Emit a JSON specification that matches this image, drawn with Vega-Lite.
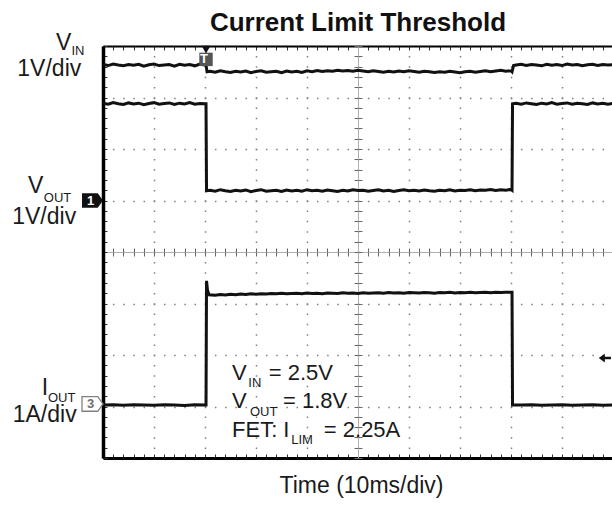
{
  "$schema": "https://vega.github.io/schema/vega-lite/v6.json",
  "autosize": {"type": "none"},
  "padding": {"left": 103, "top": 46, "right": 0, "bottom": 48},
  "width": 510,
  "height": 412,
  "background": "white",
  "config": {
    "view": {"stroke": null},
    "axis": {"labels": false, "grid": false, "title": null},
    "text": {"font": "Liberation Sans"}
  },
  "datasets": {
    "traces": [
      {"s":"VIN","t":0,"v":7.64},{"s":"VIN","t":0.1,"v":7.62},{"s":"VIN","t":0.2,"v":7.65},{"s":"VIN","t":0.3,"v":7.63},{"s":"VIN","t":0.4,"v":7.615},{"s":"VIN","t":0.5,"v":7.64},{"s":"VIN","t":0.6,"v":7.625},{"s":"VIN","t":0.7,"v":7.645},{"s":"VIN","t":0.8,"v":7.61},{"s":"VIN","t":0.9,"v":7.635},{"s":"VIN","t":1.0,"v":7.65},{"s":"VIN","t":1.1,"v":7.62},{"s":"VIN","t":1.2,"v":7.63},{"s":"VIN","t":1.3,"v":7.64},{"s":"VIN","t":1.4,"v":7.61},{"s":"VIN","t":1.5,"v":7.645},{"s":"VIN","t":1.6,"v":7.625},{"s":"VIN","t":1.7,"v":7.64},{"s":"VIN","t":1.8,"v":7.615},{"s":"VIN","t":1.9,"v":7.65},{"s":"VIN","t":2.0,"v":7.63},{"s":"VIN","t":2.02,"v":7.63},{"s":"VIN","t":2.04,"v":7.5},
      {"s":"VIN","t":2.1,"v":7.51},{"s":"VIN","t":2.2,"v":7.49},{"s":"VIN","t":2.3,"v":7.52},{"s":"VIN","t":2.4,"v":7.5},{"s":"VIN","t":2.5,"v":7.485},{"s":"VIN","t":2.6,"v":7.51},{"s":"VIN","t":2.7,"v":7.495},{"s":"VIN","t":2.8,"v":7.515},{"s":"VIN","t":2.9,"v":7.48},{"s":"VIN","t":3.0,"v":7.505},{"s":"VIN","t":3.1,"v":7.52},{"s":"VIN","t":3.2,"v":7.49},{"s":"VIN","t":3.3,"v":7.5},{"s":"VIN","t":3.4,"v":7.51},{"s":"VIN","t":3.5,"v":7.48},{"s":"VIN","t":3.6,"v":7.515},{"s":"VIN","t":3.7,"v":7.495},{"s":"VIN","t":3.8,"v":7.51},{"s":"VIN","t":3.9,"v":7.485},{"s":"VIN","t":4.0,"v":7.52},{"s":"VIN","t":4.1,"v":7.5},{"s":"VIN","t":4.2,"v":7.525},{"s":"VIN","t":4.3,"v":7.505},{"s":"VIN","t":4.4,"v":7.52},{"s":"VIN","t":4.5,"v":7.51},{"s":"VIN","t":4.6,"v":7.53},{"s":"VIN","t":4.7,"v":7.515},{"s":"VIN","t":4.8,"v":7.525},{"s":"VIN","t":4.9,"v":7.51},{"s":"VIN","t":5.0,"v":7.53},{"s":"VIN","t":5.1,"v":7.515},{"s":"VIN","t":5.2,"v":7.5},{"s":"VIN","t":5.3,"v":7.52},{"s":"VIN","t":5.4,"v":7.505},{"s":"VIN","t":5.5,"v":7.49},{"s":"VIN","t":5.6,"v":7.51},{"s":"VIN","t":5.7,"v":7.495},{"s":"VIN","t":5.8,"v":7.515},{"s":"VIN","t":5.9,"v":7.5},{"s":"VIN","t":6.0,"v":7.52},{"s":"VIN","t":6.1,"v":7.505},{"s":"VIN","t":6.2,"v":7.49},{"s":"VIN","t":6.3,"v":7.51},{"s":"VIN","t":6.4,"v":7.5},{"s":"VIN","t":6.5,"v":7.485},{"s":"VIN","t":6.6,"v":7.5},{"s":"VIN","t":6.7,"v":7.49},{"s":"VIN","t":6.8,"v":7.51},{"s":"VIN","t":6.9,"v":7.495},{"s":"VIN","t":7.0,"v":7.48},{"s":"VIN","t":7.1,"v":7.5},{"s":"VIN","t":7.2,"v":7.51},{"s":"VIN","t":7.3,"v":7.49},{"s":"VIN","t":7.4,"v":7.505},{"s":"VIN","t":7.5,"v":7.52},{"s":"VIN","t":7.6,"v":7.5},{"s":"VIN","t":7.7,"v":7.515},{"s":"VIN","t":7.8,"v":7.53},{"s":"VIN","t":7.9,"v":7.51},{"s":"VIN","t":8.0,"v":7.52},{"s":"VIN","t":8.02,"v":7.5},{"s":"VIN","t":8.05,"v":7.62},
      {"s":"VIN","t":8.1,"v":7.63},{"s":"VIN","t":8.2,"v":7.645},{"s":"VIN","t":8.3,"v":7.62},{"s":"VIN","t":8.4,"v":7.64},{"s":"VIN","t":8.5,"v":7.63},{"s":"VIN","t":8.6,"v":7.615},{"s":"VIN","t":8.7,"v":7.645},{"s":"VIN","t":8.8,"v":7.625},{"s":"VIN","t":8.9,"v":7.64},{"s":"VIN","t":9.0,"v":7.62},{"s":"VIN","t":9.1,"v":7.65},{"s":"VIN","t":9.2,"v":7.63},{"s":"VIN","t":9.3,"v":7.64},{"s":"VIN","t":9.4,"v":7.615},{"s":"VIN","t":9.5,"v":7.635},{"s":"VIN","t":9.6,"v":7.645},{"s":"VIN","t":9.7,"v":7.62},{"s":"VIN","t":9.8,"v":7.64},{"s":"VIN","t":9.9,"v":7.63},{"s":"VIN","t":10,"v":7.635},

      {"s":"VOUT","t":0,"v":6.89},{"s":"VOUT","t":0.1,"v":6.87},{"s":"VOUT","t":0.2,"v":6.9},{"s":"VOUT","t":0.3,"v":6.88},{"s":"VOUT","t":0.4,"v":6.865},{"s":"VOUT","t":0.5,"v":6.895},{"s":"VOUT","t":0.6,"v":6.875},{"s":"VOUT","t":0.7,"v":6.89},{"s":"VOUT","t":0.8,"v":6.86},{"s":"VOUT","t":0.9,"v":6.885},{"s":"VOUT","t":1.0,"v":6.9},{"s":"VOUT","t":1.1,"v":6.87},{"s":"VOUT","t":1.2,"v":6.885},{"s":"VOUT","t":1.3,"v":6.895},{"s":"VOUT","t":1.4,"v":6.865},{"s":"VOUT","t":1.5,"v":6.89},{"s":"VOUT","t":1.6,"v":6.875},{"s":"VOUT","t":1.7,"v":6.9},{"s":"VOUT","t":1.8,"v":6.87},{"s":"VOUT","t":1.9,"v":6.885},{"s":"VOUT","t":2.0,"v":6.88},{"s":"VOUT","t":2.02,"v":6.88},{"s":"VOUT","t":2.03,"v":5.19},
      {"s":"VOUT","t":2.1,"v":5.2},{"s":"VOUT","t":2.2,"v":5.18},{"s":"VOUT","t":2.3,"v":5.21},{"s":"VOUT","t":2.4,"v":5.19},{"s":"VOUT","t":2.5,"v":5.175},{"s":"VOUT","t":2.6,"v":5.2},{"s":"VOUT","t":2.7,"v":5.185},{"s":"VOUT","t":2.8,"v":5.205},{"s":"VOUT","t":2.9,"v":5.17},{"s":"VOUT","t":3.0,"v":5.195},{"s":"VOUT","t":3.1,"v":5.21},{"s":"VOUT","t":3.2,"v":5.18},{"s":"VOUT","t":3.3,"v":5.19},{"s":"VOUT","t":3.4,"v":5.2},{"s":"VOUT","t":3.5,"v":5.175},{"s":"VOUT","t":3.6,"v":5.205},{"s":"VOUT","t":3.7,"v":5.185},{"s":"VOUT","t":3.8,"v":5.2},{"s":"VOUT","t":3.9,"v":5.18},{"s":"VOUT","t":4.0,"v":5.21},{"s":"VOUT","t":4.1,"v":5.19},{"s":"VOUT","t":4.2,"v":5.2},{"s":"VOUT","t":4.3,"v":5.18},{"s":"VOUT","t":4.4,"v":5.205},{"s":"VOUT","t":4.5,"v":5.19},{"s":"VOUT","t":4.6,"v":5.175},{"s":"VOUT","t":4.7,"v":5.2},{"s":"VOUT","t":4.8,"v":5.185},{"s":"VOUT","t":4.9,"v":5.21},{"s":"VOUT","t":5.0,"v":5.195},{"s":"VOUT","t":5.1,"v":5.2},{"s":"VOUT","t":5.2,"v":5.18},{"s":"VOUT","t":5.3,"v":5.195},{"s":"VOUT","t":5.4,"v":5.21},{"s":"VOUT","t":5.5,"v":5.185},{"s":"VOUT","t":5.6,"v":5.2},{"s":"VOUT","t":5.7,"v":5.175},{"s":"VOUT","t":5.8,"v":5.195},{"s":"VOUT","t":5.9,"v":5.21},{"s":"VOUT","t":6.0,"v":5.19},{"s":"VOUT","t":6.1,"v":5.2},{"s":"VOUT","t":6.2,"v":5.185},{"s":"VOUT","t":6.3,"v":5.205},{"s":"VOUT","t":6.4,"v":5.19},{"s":"VOUT","t":6.5,"v":5.18},{"s":"VOUT","t":6.6,"v":5.2},{"s":"VOUT","t":6.7,"v":5.19},{"s":"VOUT","t":6.8,"v":5.21},{"s":"VOUT","t":6.9,"v":5.185},{"s":"VOUT","t":7.0,"v":5.2},{"s":"VOUT","t":7.1,"v":5.195},{"s":"VOUT","t":7.2,"v":5.21},{"s":"VOUT","t":7.3,"v":5.19},{"s":"VOUT","t":7.4,"v":5.205},{"s":"VOUT","t":7.5,"v":5.2},{"s":"VOUT","t":7.6,"v":5.215},{"s":"VOUT","t":7.7,"v":5.195},{"s":"VOUT","t":7.8,"v":5.21},{"s":"VOUT","t":7.9,"v":5.2},{"s":"VOUT","t":8.0,"v":5.215},{"s":"VOUT","t":8.02,"v":5.2},{"s":"VOUT","t":8.03,"v":6.88},
      {"s":"VOUT","t":8.1,"v":6.89},{"s":"VOUT","t":8.2,"v":6.87},{"s":"VOUT","t":8.3,"v":6.895},{"s":"VOUT","t":8.4,"v":6.88},{"s":"VOUT","t":8.5,"v":6.865},{"s":"VOUT","t":8.6,"v":6.89},{"s":"VOUT","t":8.7,"v":6.875},{"s":"VOUT","t":8.8,"v":6.9},{"s":"VOUT","t":8.9,"v":6.87},{"s":"VOUT","t":9.0,"v":6.885},{"s":"VOUT","t":9.1,"v":6.895},{"s":"VOUT","t":9.2,"v":6.87},{"s":"VOUT","t":9.3,"v":6.89},{"s":"VOUT","t":9.4,"v":6.88},{"s":"VOUT","t":9.5,"v":6.865},{"s":"VOUT","t":9.6,"v":6.895},{"s":"VOUT","t":9.7,"v":6.875},{"s":"VOUT","t":9.8,"v":6.89},{"s":"VOUT","t":9.9,"v":6.87},{"s":"VOUT","t":10,"v":6.885},

      {"s":"IOUT","t":0,"v":1.03},{"s":"IOUT","t":0.2,"v":1.035},{"s":"IOUT","t":0.4,"v":1.025},{"s":"IOUT","t":0.6,"v":1.035},{"s":"IOUT","t":0.8,"v":1.03},{"s":"IOUT","t":1.0,"v":1.025},{"s":"IOUT","t":1.2,"v":1.035},{"s":"IOUT","t":1.4,"v":1.03},{"s":"IOUT","t":1.6,"v":1.02},{"s":"IOUT","t":1.8,"v":1.035},{"s":"IOUT","t":2.0,"v":1.03},{"s":"IOUT","t":2.02,"v":1.03},{"s":"IOUT","t":2.03,"v":3.44},{"s":"IOUT","t":2.05,"v":3.25},{"s":"IOUT","t":2.08,"v":3.17},{"s":"IOUT","t":2.2,"v":3.16},
      {"s":"IOUT","t":2.3,"v":3.175},{"s":"IOUT","t":2.4,"v":3.165},{"s":"IOUT","t":2.5,"v":3.18},{"s":"IOUT","t":2.6,"v":3.17},{"s":"IOUT","t":2.7,"v":3.185},{"s":"IOUT","t":2.8,"v":3.175},{"s":"IOUT","t":2.9,"v":3.19},{"s":"IOUT","t":3.0,"v":3.18},{"s":"IOUT","t":3.1,"v":3.19},{"s":"IOUT","t":3.2,"v":3.185},{"s":"IOUT","t":3.3,"v":3.195},{"s":"IOUT","t":3.4,"v":3.19},{"s":"IOUT","t":3.5,"v":3.2},{"s":"IOUT","t":3.6,"v":3.19},{"s":"IOUT","t":3.7,"v":3.195},{"s":"IOUT","t":3.8,"v":3.2},{"s":"IOUT","t":3.9,"v":3.19},{"s":"IOUT","t":4.0,"v":3.205},{"s":"IOUT","t":4.1,"v":3.195},{"s":"IOUT","t":4.2,"v":3.2},{"s":"IOUT","t":4.3,"v":3.19},{"s":"IOUT","t":4.4,"v":3.205},{"s":"IOUT","t":4.5,"v":3.2},{"s":"IOUT","t":4.6,"v":3.195},{"s":"IOUT","t":4.7,"v":3.21},{"s":"IOUT","t":4.8,"v":3.2},{"s":"IOUT","t":4.9,"v":3.205},{"s":"IOUT","t":5.0,"v":3.195},{"s":"IOUT","t":5.1,"v":3.21},{"s":"IOUT","t":5.2,"v":3.2},{"s":"IOUT","t":5.3,"v":3.205},{"s":"IOUT","t":5.4,"v":3.21},{"s":"IOUT","t":5.5,"v":3.2},{"s":"IOUT","t":5.6,"v":3.215},{"s":"IOUT","t":5.7,"v":3.205},{"s":"IOUT","t":5.8,"v":3.21},{"s":"IOUT","t":5.9,"v":3.2},{"s":"IOUT","t":6.0,"v":3.215},{"s":"IOUT","t":6.1,"v":3.21},{"s":"IOUT","t":6.2,"v":3.205},{"s":"IOUT","t":6.3,"v":3.215},{"s":"IOUT","t":6.4,"v":3.21},{"s":"IOUT","t":6.5,"v":3.2},{"s":"IOUT","t":6.6,"v":3.215},{"s":"IOUT","t":6.7,"v":3.21},{"s":"IOUT","t":6.8,"v":3.22},{"s":"IOUT","t":6.9,"v":3.205},{"s":"IOUT","t":7.0,"v":3.215},{"s":"IOUT","t":7.1,"v":3.21},{"s":"IOUT","t":7.2,"v":3.22},{"s":"IOUT","t":7.3,"v":3.21},{"s":"IOUT","t":7.4,"v":3.215},{"s":"IOUT","t":7.5,"v":3.22},{"s":"IOUT","t":7.6,"v":3.21},{"s":"IOUT","t":7.7,"v":3.22},{"s":"IOUT","t":7.8,"v":3.215},{"s":"IOUT","t":7.9,"v":3.22},{"s":"IOUT","t":8.0,"v":3.22},{"s":"IOUT","t":8.02,"v":3.22},{"s":"IOUT","t":8.03,"v":1.03},
      {"s":"IOUT","t":8.2,"v":1.03},{"s":"IOUT","t":8.4,"v":1.035},{"s":"IOUT","t":8.6,"v":1.025},{"s":"IOUT","t":8.8,"v":1.03},{"s":"IOUT","t":9.0,"v":1.035},{"s":"IOUT","t":9.2,"v":1.025},{"s":"IOUT","t":9.4,"v":1.03},{"s":"IOUT","t":9.6,"v":1.035},{"s":"IOUT","t":9.8,"v":1.025},{"s":"IOUT","t":10,"v":1.03}
    ],
    "heading": [
      {"t":5,"v":8.29,"label":"Current Limit Threshold"}
    ],
    "labels": [
      {"t":-0.92,"v":7.92,"label":"V"},
      {"t":-1.68,"v":7.42,"label":"1V/div"},
      {"t":-1.47,"v":5.15,"label":"V"},
      {"t":-1.78,"v":4.55,"label":"1V/div"},
      {"t":-1.2,"v":1.22,"label":"I"},
      {"t":-1.77,"v":0.7,"label":"1A/div"}
    ],
    "anno": [
      {"t":2.53,"v":1.51,"label":"V"},
      {"t":3.25,"v":1.51,"label":"= 2.5V"},
      {"t":2.53,"v":0.97,"label":"V"},
      {"t":3.53,"v":0.97,"label":"= 1.8V"},
      {"t":2.53,"v":0.41,"label":"FET: I"},
      {"t":4.33,"v":0.41,"label":"= 2.25A"}
    ],
    "subs": [
      {"t":-0.62,"v":7.83,"label":"IN"},
      {"t":-1.16,"v":4.97,"label":"OUT"},
      {"t":-1.08,"v":1.09,"label":"OUT"},
      {"t":2.85,"v":1.38,"label":"IN"},
      {"t":2.88,"v":0.82,"label":"OUT"},
      {"t":3.69,"v":0.27,"label":"LIM"}
    ],
    "markers": [
      {"m":"ch1","t":-0.206,"v":5.0,"label":"1"},
      {"m":"ch3","t":-0.206,"v":1.05,"label":"3"},
      {"m":"trig","t":2.02,"v":7.74,"label":"T"},
      {"m":"trigtop","t":2.02,"v":7.93,"label":""},
      {"m":"level","t":9.84,"v":1.94,"label":""}
    ]
  },
  "resolve": {"axis": {"x": "independent", "y": "independent"}},
  "layer": [
    {
      "data": {"name": "traces"},
      "mark": {"type": "line", "color": "#111111", "strokeWidth": 3, "clip": true},
      "encoding": {
        "x": {"field": "t", "type": "quantitative", "scale": {"domain": [0, 10], "nice": false, "zero": false},
              "axis": {"orient": "bottom", "values": [0,1,2,3,4,5,6,7,8,9,10], "grid": true, "gridDash": [1.5, 8.8], "gridDashOffset": 0.75, "gridColor": "#808080", "gridWidth": 1.5, "gridOpacity": 1, "domain": false, "ticks": false, "title": null}},
        "y": {"field": "v", "type": "quantitative", "scale": {"domain": [0, 8], "nice": false, "zero": false},
              "axis": {"orient": "left", "values": [0,1,2,3,4,5,6,7,8], "grid": true, "gridDash": [1.5, 8.7], "gridDashOffset": 0.75, "gridColor": "#808080", "gridWidth": 1.5, "gridOpacity": 1, "domain": false, "ticks": false, "title": null}},
        "detail": {"field": "s"}
      }
    },
    {
      "data": {"name": "heading"},
      "mark": {"type": "text", "align": "center", "baseline": "alphabetic", "fontSize": 26, "fontWeight": "bold", "color": "#111111"},
      "encoding": {
        "x": {"field": "t", "type": "quantitative", "scale": {"domain": [0, 10], "nice": false, "zero": false}, "axis": null},
        "y": {"field": "v", "type": "quantitative", "scale": {"domain": [0, 8], "nice": false, "zero": false}, "axis": null},
        "text": {"field": "label"}
      }
    },
    {
      "data": {"name": "labels"},
      "mark": {"type": "text", "align": "left", "baseline": "alphabetic", "fontSize": 23, "color": "#1a1a1a"},
      "encoding": {
        "x": {"field": "t", "type": "quantitative", "scale": {"domain": [0, 10], "nice": false, "zero": false},
              "axis": {"orient": "bottom", "values": [0,0.2,0.4,0.6,0.8,1,1.2,1.4,1.6,1.8,2,2.2,2.4,2.6,2.8,3,3.2,3.4,3.6,3.8,4,4.2,4.4,4.6,4.8,5,5.2,5.4,5.6,5.8,6,6.2,6.4,6.6,6.8,7,7.2,7.4,7.6,7.8,8,8.2,8.4,8.6,8.8,9,9.2,9.4,9.6,9.8,10], "domain": true, "domainColor": "#000000", "domainWidth": 3, "ticks": true, "tickSize": -4, "tickColor": "#333333", "tickWidth": 1,
                       "title": "Time (10ms/div)", "titleFont": "Liberation Sans", "titleFontSize": 23, "titleFontWeight": "normal", "titleColor": "#1a1a1a", "titleBaseline": "alphabetic", "titleY": 34, "titleX": 258}},
        "y": {"field": "v", "type": "quantitative", "scale": {"domain": [0, 8], "nice": false, "zero": false},
              "axis": {"orient": "left", "values": [0,0.2,0.4,0.6,0.8,1,1.2,1.4,1.6,1.8,2,2.2,2.4,2.6,2.8,3,3.2,3.4,3.6,3.8,4,4.2,4.4,4.6,4.8,5,5.2,5.4,5.6,5.8,6,6.2,6.4,6.6,6.8,7,7.2,7.4,7.6,7.8,8], "domain": true, "domainColor": "#000000", "domainWidth": 3.5, "ticks": true, "tickSize": -4, "tickColor": "#333333", "tickWidth": 1, "title": null}},
        "text": {"field": "label"}
      }
    },
    {
      "data": {"name": "anno"},
      "mark": {"type": "text", "align": "left", "baseline": "alphabetic", "fontSize": 22, "color": "#1a1a1a"},
      "encoding": {
        "x": {"field": "t", "type": "quantitative", "scale": {"domain": [0, 10], "nice": false, "zero": false}, "axis": null},
        "y": {"field": "v", "type": "quantitative", "scale": {"domain": [0, 8], "nice": false, "zero": false}, "axis": null},
        "text": {"field": "label"}
      }
    },
    {
      "data": {"name": "subs"},
      "mark": {"type": "text", "align": "left", "baseline": "alphabetic", "fontSize": 13, "color": "#1a1a1a"},
      "encoding": {
        "x": {"field": "t", "type": "quantitative", "scale": {"domain": [0, 10], "nice": false, "zero": false},
              "axis": {"orient": "top", "values": [0,0.2,0.4,0.6,0.8,1,1.2,1.4,1.6,1.8,2,2.2,2.4,2.6,2.8,3,3.2,3.4,3.6,3.8,4,4.2,4.4,4.6,4.8,5,5.2,5.4,5.6,5.8,6,6.2,6.4,6.6,6.8,7,7.2,7.4,7.6,7.8,8,8.2,8.4,8.6,8.8,9,9.2,9.4,9.6,9.8,10], "domain": true, "domainColor": "#000000", "domainWidth": 1.8, "ticks": true, "tickSize": -4, "tickColor": "#333333", "tickWidth": 1, "title": null}},
        "y": {"field": "v", "type": "quantitative", "scale": {"domain": [0, 8], "nice": false, "zero": false},
              "axis": {"orient": "left", "offset": -255, "values": [0,0.2,0.4,0.6,0.8,1,1.2,1.4,1.6,1.8,2,2.2,2.4,2.6,2.8,3,3.2,3.4,3.6,3.8,4,4.2,4.4,4.6,4.8,5,5.2,5.4,5.6,5.8,6,6.2,6.4,6.6,6.8,7,7.2,7.4,7.6,7.8,8], "domain": true, "domainColor": "#b0b0b0", "domainWidth": 1, "ticks": true, "tickSize": 4, "tickColor": "#666666", "tickWidth": 1, "title": null}},
        "text": {"field": "label"}
      }
    },
    {
      "data": {"name": "markers"},
      "transform": [{"filter": "datum.m == 'ch1'"}],
      "mark": {"type": "point", "shape": "M-1,-0.7H0.5L1,0L0.5,0.7H-1Z", "size": 441, "filled": true, "color": "#111111", "opacity": 1},
      "encoding": {
        "x": {"field": "t", "type": "quantitative", "scale": {"domain": [0, 10], "nice": false, "zero": false},
              "axis": {"orient": "bottom", "offset": -206, "values": [0,0.2,0.4,0.6,0.8,1,1.2,1.4,1.6,1.8,2,2.2,2.4,2.6,2.8,3,3.2,3.4,3.6,3.8,4,4.2,4.4,4.6,4.8,5,5.2,5.4,5.6,5.8,6,6.2,6.4,6.6,6.8,7,7.2,7.4,7.6,7.8,8,8.2,8.4,8.6,8.8,9,9.2,9.4,9.6,9.8,10], "domain": true, "domainColor": "#b0b0b0", "domainWidth": 1, "ticks": true, "tickSize": 4, "tickColor": "#666666", "tickWidth": 1, "title": null}},
        "y": {"field": "v", "type": "quantitative", "scale": {"domain": [0, 8], "nice": false, "zero": false},
              "axis": {"orient": "right", "offset": -255, "values": [0,0.2,0.4,0.6,0.8,1,1.2,1.4,1.6,1.8,2,2.2,2.4,2.6,2.8,3,3.2,3.4,3.6,3.8,4,4.2,4.4,4.6,4.8,5,5.2,5.4,5.6,5.8,6,6.2,6.4,6.6,6.8,7,7.2,7.4,7.6,7.8,8], "domain": false, "ticks": true, "tickSize": 4, "tickColor": "#666666", "tickWidth": 1, "title": null}}
      }
    },
    {
      "data": {"name": "markers"},
      "transform": [{"filter": "datum.m == 'ch3'"}],
      "mark": {"type": "point", "shape": "M-1,-0.7H0.5L1,0L0.5,0.7H-1Z", "size": 441, "filled": true, "fill": "white", "stroke": "#808080", "strokeWidth": 1.3, "opacity": 1},
      "encoding": {
        "x": {"field": "t", "type": "quantitative", "scale": {"domain": [0, 10], "nice": false, "zero": false},
              "axis": {"orient": "top", "offset": -206, "values": [0,0.2,0.4,0.6,0.8,1,1.2,1.4,1.6,1.8,2,2.2,2.4,2.6,2.8,3,3.2,3.4,3.6,3.8,4,4.2,4.4,4.6,4.8,5,5.2,5.4,5.6,5.8,6,6.2,6.4,6.6,6.8,7,7.2,7.4,7.6,7.8,8,8.2,8.4,8.6,8.8,9,9.2,9.4,9.6,9.8,10], "domain": false, "ticks": true, "tickSize": 4, "tickColor": "#666666", "tickWidth": 1, "title": null}},
        "y": {"field": "v", "type": "quantitative", "scale": {"domain": [0, 8], "nice": false, "zero": false}, "axis": null}
      }
    },
    {
      "data": {"name": "markers"},
      "transform": [{"filter": "datum.m == 'trig'"}],
      "mark": {"type": "point", "shape": "square", "size": 180, "filled": true, "color": "#555555", "opacity": 1},
      "encoding": {
        "x": {"field": "t", "type": "quantitative", "scale": {"domain": [0, 10], "nice": false, "zero": false}, "axis": null},
        "y": {"field": "v", "type": "quantitative", "scale": {"domain": [0, 8], "nice": false, "zero": false}, "axis": null}
      }
    },
    {
      "data": {"name": "markers"},
      "transform": [{"filter": "datum.m == 'trigtop'"}],
      "mark": {"type": "point", "shape": "triangle-down", "size": 80, "filled": true, "color": "#111111", "opacity": 1},
      "encoding": {
        "x": {"field": "t", "type": "quantitative", "scale": {"domain": [0, 10], "nice": false, "zero": false}, "axis": null},
        "y": {"field": "v", "type": "quantitative", "scale": {"domain": [0, 8], "nice": false, "zero": false}, "axis": null}
      }
    },
    {
      "data": {"name": "markers"},
      "transform": [{"filter": "datum.m == 'level'"}],
      "mark": {"type": "point", "shape": "M-1,0L0,-0.7L0,-0.2L1,-0.2L1,0.2L0,0.2L0,0.7Z", "size": 150, "filled": true, "color": "#111111", "opacity": 1},
      "encoding": {
        "x": {"field": "t", "type": "quantitative", "scale": {"domain": [0, 10], "nice": false, "zero": false}, "axis": null},
        "y": {"field": "v", "type": "quantitative", "scale": {"domain": [0, 8], "nice": false, "zero": false}, "axis": null}
      }
    },
    {
      "data": {"name": "markers"},
      "transform": [{"filter": "datum.label != ''"}],
      "mark": {"type": "text", "align": "center", "baseline": "middle", "fontSize": 13, "fontWeight": "bold", "dx": -2},
      "encoding": {
        "x": {"field": "t", "type": "quantitative", "scale": {"domain": [0, 10], "nice": false, "zero": false}, "axis": null},
        "y": {"field": "v", "type": "quantitative", "scale": {"domain": [0, 8], "nice": false, "zero": false}, "axis": null},
        "text": {"field": "label"},
        "color": {"field": "m", "type": "nominal", "scale": {"domain": ["ch1", "ch3", "trig"], "range": ["#ffffff", "#707070", "#ffffff"]}, "legend": null}
      }
    }
  ]
}
